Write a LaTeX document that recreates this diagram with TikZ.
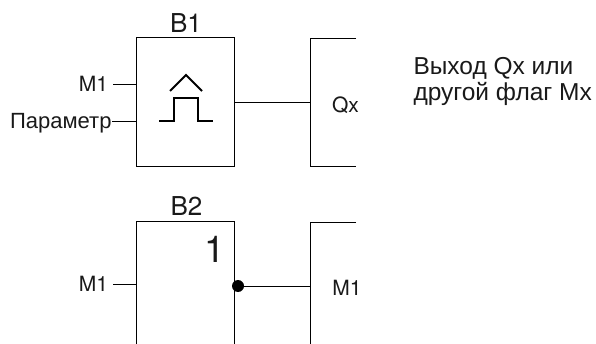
\documentclass[tikz,border=0pt]{standalone}
\usepackage{fontspec}
\setmainfont{Liberation Sans}
\newfontfamily\heros{TeX Gyre Heros}
\usetikzlibrary{positioning}

\begin{document}
\begin{tikzpicture}[x=1pt,y=-1pt,line width=1pt,
    txt/.style={font=\fontsize{21}{24}\selectfont,text=black!90,text height=15pt,text depth=0pt,inner sep=0pt},
    title/.style={font=\heros\fontsize{26}{28}\selectfont,text=black!90,text height=18pt,text depth=0pt,inner sep=0pt},
    sym/.style={line width=2pt}]
    \useasboundingbox (0,0) rectangle (596,344);

    % Define block corners
    \coordinate (B1tl) at (136,38);
    \coordinate (B1tr) at (234,38);
    \coordinate (B1br) at (234,166.7);
    \coordinate (B1bl) at (136,166.7);
    \coordinate (B2tl) at (136,222);
    \coordinate (B2tr) at (234,222);
    \coordinate (B2br) at (234,344);
    \coordinate (B2bl) at (136,344);

    % Draw blocks
    \draw (B1tl) -- (B1tr) -- (B1br) -- (B1bl) -- cycle;
    \draw (B2bl) -- (B2tl) -- (B2tr) -- (B2br);

    % Draw open outputs
    \coordinate (Qt) at (310,39);
    \coordinate (Qb) at (310,166.7);
    \coordinate (Ft) at (310,223);
    \coordinate (Fb) at (310,344);
    \draw (356,39) -- (Qt) -- (Qb) -- (356,166.7);
    \draw (356,223) -- (Ft) -- (Fb);

    % Titles
    \node[title] (B1) at (186,23.5) {B1};
    \node[title] (B2) at (186.5,207) {B2};

    % Inputs of B1
    \node[txt,anchor=east] (M1a) at (108.5,84.5) {\heros M1};
    \node[txt,anchor=east,font=\fontsize{22}{24}\selectfont] (Par) at (112,121.5) {Параметр};
    \draw (M1a.east) ++(4.5,0) coordinate (M1as) -- (M1as -| B1tl);
    \draw (Par.east) -- (Par.east -| B1tl);

    % Edge symbol
    \draw[sym] (170,91) -- (186,75) -- (202,91);
    \draw[sym] (159,121) -- (174,121) -- (174,98) -- (198,98) -- (198,121) -- (213,121);

    % Output of B1
    \coordinate (B1out) at (234,102.6);
    \draw (B1out) -- (B1out -| Qt);
    \node[txt] (Qx) at (345.5,105) {\heros Qx};

    % Note
    \node[anchor=north west,align=left,inner sep=0pt,text=black!90,font=\fontsize{24.5}{26}\selectfont] (Note) at (413,56.5) {Выход Qx или\\другой флаг Mx};

    % Input of B2
    \node[txt,anchor=east] (M1b) at (108.5,284) {\heros M1};
    \draw (M1b.east) ++(4.5,0) coordinate (M1bs) -- (M1bs -| B2tl);

    % Function of B2
    \node[font=\heros\fontsize{37}{40}\selectfont,text=black!90,inner sep=0pt] (One) at (215,249) {1};

    % Negated output of B2
    \node[circle,fill=black,inner sep=0pt,minimum size=12pt] (Neg) at (238,286) {};
    \draw (Neg.center) -- (Neg.center -| Ft);
    \node[txt] (M1c) at (347,288) {\heros M1};
\end{tikzpicture}
\end{document}
